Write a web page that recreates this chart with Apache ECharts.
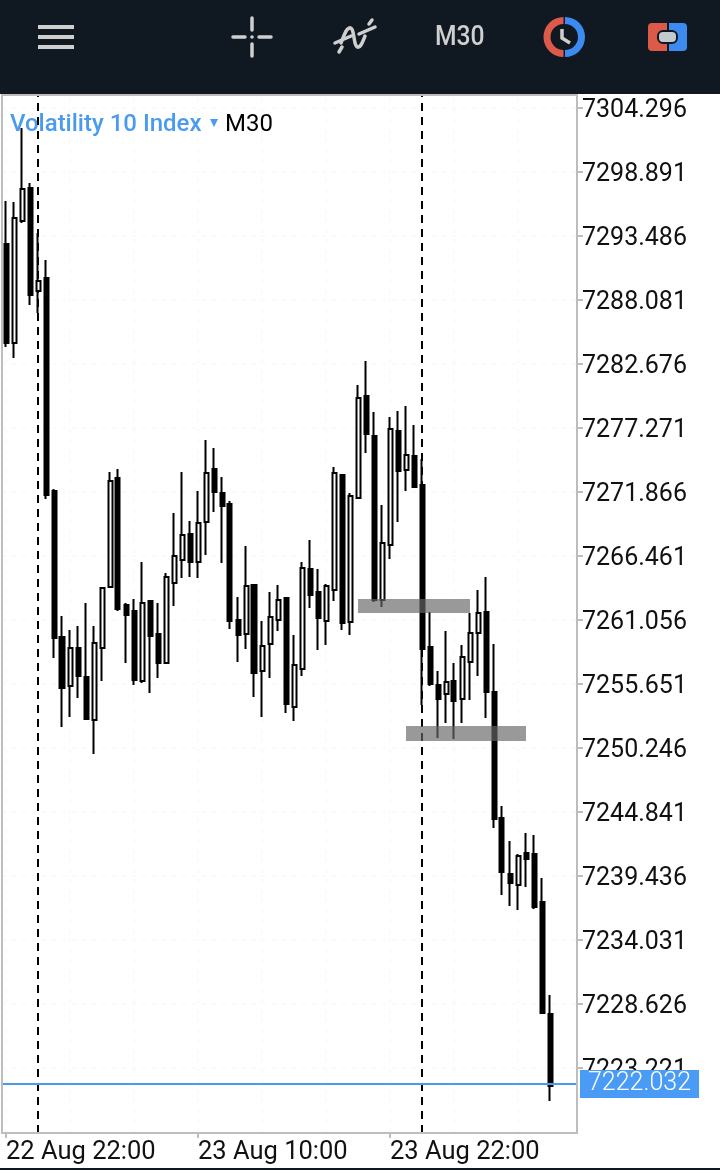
<!DOCTYPE html>
<html>
<head>
<meta charset="utf-8">
<title>Volatility 10 Index M30</title>
<script src="https://cdn.jsdelivr.net/npm/echarts@6/dist/echarts.min.js"></script>
<style>
  html, body { margin: 0; padding: 0; background: #fff; }
  #chart { width: 720px; height: 1170px; }
</style>
</head>
<body>
<div id="chart"></div>
<script>
// half hour bars, three empty slots are left on the right of the last one
const months = ['Jan', 'Feb', 'Mar', 'Apr', 'May', 'Jun', 'Jul', 'Aug'];
const categories = [];
for (let i = 0; i < 72; i++) {
  const t = new Date(Date.UTC(2023, 7, 22, 22, 30 * i));
  const hh = String(t.getUTCHours()).padStart(2, '0');
  const mm = String(t.getUTCMinutes()).padStart(2, '0');
  categories.push(t.getUTCDate() + ' ' + months[t.getUTCMonth()] + ' ' + hh + ':' + mm);
}

const opens = [
  7292.81, 7284.45, 7294.76, 7297.54, 7288.84, 7289.94, 7271.95, 7259.63, 7255.48, 7258.70,
  7256.24, 7252.61, 7258.70, 7263.85, 7273.05, 7262.33, 7261.82, 7255.90, 7262.67, 7259.88,
  7257.43, 7264.19, 7266.13, 7268.32, 7265.96, 7269.33, 7273.81, 7271.78, 7270.85, 7261.06,
  7259.88, 7264.02, 7256.75, 7259.03, 7261.06, 7262.92, 7253.71, 7256.92, 7265.37, 7263.43,
  7260.98, 7263.59, 7273.31, 7260.89, 7271.36, 7279.98, 7276.60, 7262.75, 7267.39, 7277.02,
  7273.73, 7274.91, 7272.46, 7258.78, 7255.57, 7254.81, 7255.90, 7254.38, 7257.51, 7259.96,
  7261.73, 7254.98, 7244.34, 7239.61, 7238.68, 7241.38, 7241.30, 7237.24, 7227.78
];
const closes = [
  7284.45, 7295.01, 7297.46, 7288.50, 7289.69, 7271.61, 7259.54, 7255.31, 7258.70, 7256.33,
  7252.70, 7259.12, 7263.76, 7272.79, 7261.99, 7261.48, 7255.99, 7262.50, 7259.71, 7257.43,
  7264.69, 7266.47, 7268.23, 7265.96, 7269.25, 7273.48, 7271.87, 7270.68, 7260.98, 7259.79,
  7263.93, 7256.58, 7258.87, 7261.31, 7262.75, 7253.96, 7257.26, 7265.45, 7263.17, 7261.23,
  7263.93, 7273.48, 7260.81, 7271.53, 7279.81, 7276.77, 7262.75, 7267.56, 7277.19, 7273.64,
  7275.00, 7272.29, 7258.61, 7255.65, 7254.38, 7255.82, 7254.22, 7257.94, 7259.96, 7261.65,
  7254.98, 7244.26, 7239.78, 7238.85, 7241.13, 7240.87, 7236.82, 7227.86, 7221.70
];
const lows = [
  7284.11, 7283.18, 7294.59, 7287.66, 7286.98, 7271.27, 7257.85, 7252.02, 7252.86, 7254.47,
  7252.70, 7249.74, 7255.90, 7263.85, 7261.82, 7257.43, 7255.57, 7255.74, 7254.89, 7256.16,
  7257.43, 7262.24, 7264.61, 7264.69, 7264.61, 7266.55, 7270.18, 7265.87, 7260.30, 7257.51,
  7258.61, 7254.55, 7252.86, 7256.16, 7260.13, 7253.20, 7252.53, 7256.33, 7262.07, 7258.52,
  7258.95, 7262.67, 7260.22, 7259.79, 7271.36, 7275.16, 7262.58, 7262.16, 7266.21, 7269.33,
  7271.95, 7272.29, 7253.88, 7255.48, 7251.09, 7252.36, 7251.01, 7252.36, 7254.30, 7256.33,
  7252.78, 7243.50, 7237.84, 7236.90, 7236.57, 7238.51, 7236.65, 7227.86, 7220.43
];
const highs = [
  7296.45, 7296.36, 7302.61, 7297.96, 7293.74, 7291.46, 7272.12, 7261.40, 7260.22, 7260.55,
  7262.50, 7260.55, 7263.76, 7273.55, 7273.81, 7262.50, 7262.83, 7265.96, 7262.75, 7262.50,
  7265.03, 7270.09, 7273.55, 7269.42, 7271.95, 7276.26, 7275.59, 7273.13, 7271.11, 7263.00,
  7267.30, 7264.10, 7260.98, 7263.43, 7264.02, 7262.92, 7259.79, 7265.96, 7267.81, 7265.37,
  7264.10, 7273.98, 7273.39, 7271.78, 7280.91, 7282.94, 7278.63, 7270.77, 7278.20, 7278.71,
  7279.13, 7277.53, 7274.65, 7261.73, 7256.75, 7260.13, 7257.43, 7258.95, 7261.65, 7263.59,
  7264.69, 7259.03, 7245.35, 7242.39, 7241.30, 7243.07, 7242.90, 7239.27, 7229.38
];

const yTicks = [
  7304.296, 7298.891, 7293.486, 7288.081, 7282.676, 7277.271, 7271.866, 7266.461,
  7261.056, 7255.651, 7250.246, 7244.841, 7239.436, 7234.031, 7228.626, 7223.221
];
const yMin = 7217.732;
const yMax = 7305.394;

// day separators
const separators = ['23 Aug 00:00', '24 Aug 00:00'];
// grey zones drawn on the chart: [first bar, last bar, upper price, lower price]
const zoneBars = [['23 Aug 20:00', '24 Aug 03:00'], ['23 Aug 23:00', '24 Aug 06:30']];
const zonePrices = [[7262.83, 7261.65], [7252.10, 7250.84]];
const lastLevel = 7221.87;
const lastLabel = '7222.032';

const FONT = 'Roboto';
const ICON = '#cfcfcf';
const RED = '#dc5a4a';
const BLUE = '#3b8bf0';

const chart = echarts.init(document.getElementById('chart'));

const candleData = opens.map((o, i) => [o, closes[i], lows[i], highs[i]]);

const gridLines = yTicks.map(v => ({ yAxis: v }))
  .concat(categories.filter((c, i) => i % 8 === 0).map(c => ({ xAxis: c })));

// header icon strokes
const iconLine = (x1, y1, x2, y2) => ({
  type: 'line', z: 12, shape: { x1, y1, x2, y2 },
  style: { stroke: ICON, lineWidth: 3.5, lineCap: 'round' }
});
const iconCurve = (x1, y1, cpx1, cpy1, cpx2, cpy2, x2, y2) => ({
  type: 'bezierCurve', z: 12, shape: { x1, y1, cpx1, cpy1, cpx2, cpy2, x2, y2 },
  style: { fill: 'none', stroke: ICON, lineWidth: 3.5, lineCap: 'round' }
});

const option = {
  animation: false,
  backgroundColor: '#fff',
  textStyle: { fontFamily: FONT },
  grid: { left: 2, top: 95, width: 576, height: 1038 },
  xAxis: {
    type: 'category',
    data: categories,
    boundaryGap: true,
    axisLine: { show: false },
    axisTick: { show: true, alignWithLabel: true, interval: 23, length: 5, lineStyle: { color: '#bdbdbd', width: 2 } },
    axisLabel: {
      interval: 23,
      align: 'left',
      margin: 7,
      color: '#111',
      fontFamily: FONT,
      fontSize: 25.5
    },
    splitLine: { show: false }
  },
  yAxis: {
    type: 'value',
    position: 'right',
    min: yMin,
    max: yMax,
    axisLine: { show: false },
    axisTick: { show: true, length: 5, customValues: yTicks, lineStyle: { color: '#bdbdbd', width: 2 } },
    axisLabel: {
      customValues: yTicks,
      formatter: v => '{p|' + v.toFixed(3) + '}',
      margin: 4,
      hideOverlap: false,
      rich: {
        p: { color: '#111', fontFamily: FONT, fontSize: 25, padding: [6, 0, 0, 0] }
      }
    },
    splitLine: { show: false }
  },
  series: [
    {
      // faint dotted background grid
      type: 'line',
      data: [],
      silent: true,
      markLine: {
        z: 0,
        silent: true,
        symbol: 'none',
        label: { show: false },
        lineStyle: { color: '#fafafa', width: 2, type: [4, 6] },
        data: gridLines
      }
    },
    {
      // day separators
      type: 'line',
      data: [],
      silent: true,
      markLine: {
        z: 2,
        silent: true,
        symbol: 'none',
        label: { show: false },
        lineStyle: { color: '#000', width: 2, type: [8, 6] },
        data: separators.map(s => ({ xAxis: s }))
      }
    },
    {
      type: 'candlestick',
      data: candleData,
      barWidth: 4.5,
      z: 3,
      silent: true,
      itemStyle: {
        color: '#fff',
        color0: '#000',
        borderColor: '#000',
        borderColor0: '#000',
        borderWidth: 2
      }
    },
    {
      // zones and last price line lie over the candles
      type: 'line',
      data: [],
      silent: true,
      markArea: {
        z: 4,
        silent: true,
        itemStyle: { color: 'rgba(102,102,102,0.667)' },
        data: zoneBars.map((b, i) => [
          { xAxis: b[0], yAxis: zonePrices[i][0] },
          { xAxis: b[1], yAxis: zonePrices[i][1] }
        ])
      },
      markLine: {
        z: 5,
        silent: true,
        symbol: 'none',
        lineStyle: { color: '#4a9be8', width: 2, type: 'solid' },
        label: {
          position: 'end',
          formatter: lastLabel,
          distance: 2,
          color: '#fff',
          backgroundColor: '#4a9bf5',
          fontFamily: FONT,
          fontSize: 25,
          fontWeight: 300,
          padding: [3, 8, 0, 8]
        },
        data: [{ yAxis: lastLevel }]
      }
    }
  ],
  graphic: {
    elements: [
      // plot frame
      { type: 'rect', z: 10, silent: true, shape: { x: 2, y: 95, width: 575, height: 1038 }, style: { fill: 'none', stroke: '#bdbdbd', lineWidth: 2 } },
      // top bar
      { type: 'rect', z: 11, silent: true, shape: { x: 0, y: 0, width: 720, height: 94 }, style: { fill: '#101922' } },
      { type: 'rect', z: 11, silent: true, shape: { x: 0, y: 1168, width: 720, height: 2 }, style: { fill: '#101922' } },
      // menu
      { type: 'rect', z: 12, shape: { x: 38, y: 25, width: 36, height: 4 }, style: { fill: ICON } },
      { type: 'rect', z: 12, shape: { x: 38, y: 35, width: 36, height: 4 }, style: { fill: ICON } },
      { type: 'rect', z: 12, shape: { x: 38, y: 45, width: 36, height: 4 }, style: { fill: ICON } },
      // crosshair
      iconLine(233, 37, 245, 37),
      iconLine(259, 37, 271, 37),
      iconLine(252, 18, 252, 30),
      iconLine(252, 44, 252, 56),
      { type: 'circle', z: 12, shape: { cx: 252, cy: 37, r: 1.8 }, style: { fill: ICON } },
      // indicators
      iconCurve(341, 43, 344, 36, 346, 28, 350, 28),
      iconCurve(350, 28, 355, 28, 353, 47, 358, 47),
      iconCurve(358, 47, 361, 47, 363, 41, 365, 36),
      iconLine(335, 43, 351, 36),
      iconLine(359, 34, 375, 27),
      iconLine(369, 24, 372, 20),
      iconLine(339, 52, 342, 47),
      // timeframe
      { type: 'text', z: 12, x: 435, y: 38, scaleX: 0.88, style: { text: 'M30', fill: ICON, font: '500 28px Roboto', textVerticalAlign: 'middle' } },
      // clock
      { type: 'sector', z: 12, shape: { cx: 563.5, cy: 37, r0: 13, r: 20, startAngle: Math.PI / 2, endAngle: Math.PI * 3 / 2 }, style: { fill: RED } },
      { type: 'sector', z: 12, shape: { cx: 565, cy: 37, r0: 13, r: 20, startAngle: -Math.PI / 2, endAngle: Math.PI / 2 }, style: { fill: BLUE } },
      { type: 'polyline', z: 12, shape: { points: [[562, 29], [562, 38], [570, 43]] }, style: { fill: 'none', stroke: ICON, lineWidth: 3.5 } },
      // one click trading
      { type: 'rect', z: 12, shape: { x: 648, y: 23, width: 19, height: 28, r: [4, 0, 0, 4] }, style: { fill: RED } },
      { type: 'rect', z: 12, shape: { x: 669, y: 23, width: 18, height: 28, r: [0, 4, 4, 0] }, style: { fill: BLUE } },
      { type: 'rect', z: 13, shape: { x: 658, y: 31, width: 19, height: 12, r: 5 }, style: { fill: '#c2ccd0', stroke: '#101922', lineWidth: 2 } },
      // symbol name, under the candles
      { type: 'text', z: 1, x: 10, y: 125, style: { text: 'Volatility 10 Index', fill: '#4a9bf0', font: '500 24px Roboto', textVerticalAlign: 'middle' } },
      { type: 'polygon', z: 1, shape: { points: [[210, 119], [218, 119], [214, 127]] }, style: { fill: '#4a9bf0' } },
      { type: 'text', z: 1, x: 225, y: 125, style: { text: 'M30', fill: '#000', font: '400 24px Roboto', textVerticalAlign: 'middle' } }
    ]
  }
};

chart.setOption(option);
</script>
</body>
</html>
